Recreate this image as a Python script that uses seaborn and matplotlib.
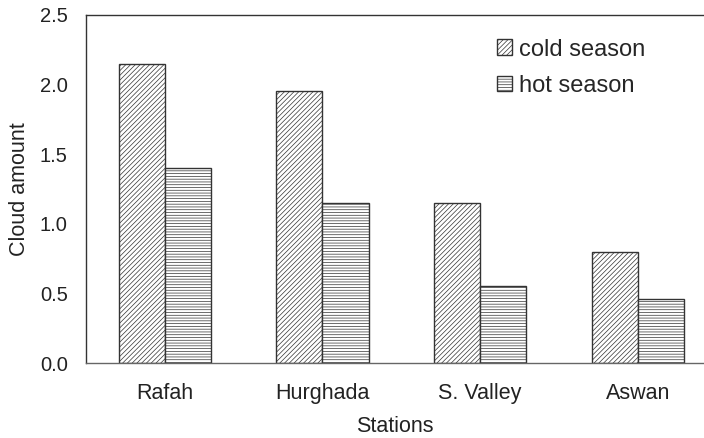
import matplotlib
matplotlib.use("Agg")
import matplotlib.pyplot as plt
import seaborn as sns
import pandas as pd

stations = ["Rafah", "Hurghada", "S. Valley", "Aswan"]
cold_season = [2.15, 1.95, 1.15, 0.80]
hot_season = [1.40, 1.15, 0.55, 0.46]
series_names = ["cold season", "hot season"]
yticks = [0.0, 0.5, 1.0, 1.5, 2.0, 2.5]

df = pd.DataFrame({
    "Stations": stations * 2,
    "Cloud amount": cold_season + hot_season,
    "season": [series_names[0]] * 4 + [series_names[1]] * 4,
})

sns.set_style("white")
plt.rcParams["font.family"] = ["Liberation Sans", "DejaVu Sans"]
plt.rcParams["hatch.linewidth"] = 0.5

fig = plt.figure(figsize=(7.04, 4.38), dpi=100)
ax = fig.add_axes([0.122, 0.171, 0.878, 0.795])

sns.barplot(data=df, x="Stations", y="Cloud amount", hue="season",
            order=stations, hue_order=series_names, width=0.585,
            palette=["white", "white"], edgecolor="#333333",
            linewidth=1.0, ax=ax, legend=True)

hatches = ["///////", "------"]
for container, h in zip(ax.containers, hatches):
    for bar in container:
        bar.set_hatch(h)

handles, labels = ax.get_legend_handles_labels()
for hd, h in zip(handles, hatches):
    hd.set_hatch(h)
    hd.set_edgecolor("#333333")
    hd.set_facecolor("white")
ax.legend(handles, labels, loc="upper left", bbox_to_anchor=(0.665, 0.932),
          frameon=False, fontsize=17, handlelength=0.65, handleheight=0.65,
          handletextpad=0.3, labelspacing=0.6, borderpad=0, borderaxespad=0)

ax.set_xlim(-0.5, 3.42)
ax.set_ylim(0, 2.5)
ax.set_yticks(yticks)
ax.set_yticklabels([f"{v:.1f}" for v in yticks])
ax.tick_params(axis="y", direction="in", length=4, color="#bbbbbb",
               labelsize=14.5, pad=13, labelcolor="#222222")
ax.tick_params(axis="x", length=0, labelsize=15.5, pad=14, labelcolor="#222222")
ax.set_xlabel("Stations", fontsize=15.5, color="#222222", labelpad=9)
ax.set_ylabel("Cloud amount", fontsize=15.5, color="#222222", labelpad=7)

for s in ["top", "left", "bottom"]:
    ax.spines[s].set_visible(True)
    ax.spines[s].set_color("#333333")
    ax.spines[s].set_linewidth(1.0)
ax.spines["bottom"].set_color("#666666")
ax.spines["right"].set_visible(False)

fig.savefig("out.png", dpi=100)
